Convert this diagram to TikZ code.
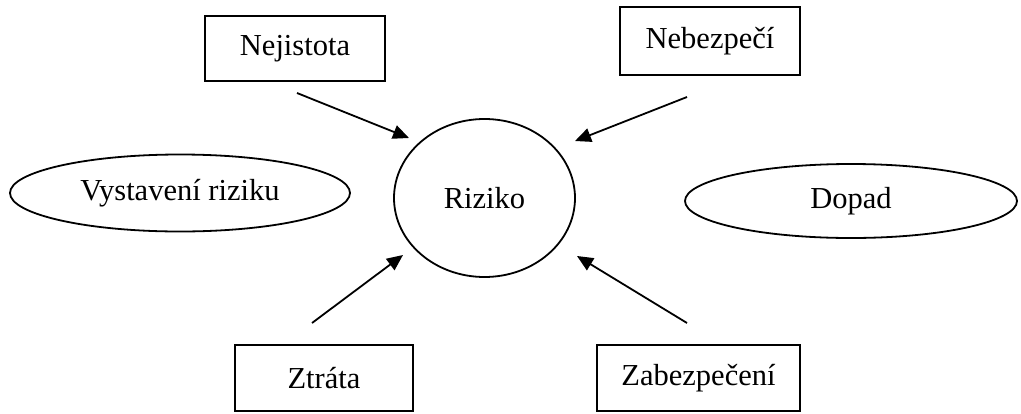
\documentclass[tikz,border=0pt]{standalone}
\usepackage{fontspec}
\setmainfont{Liberation Serif}
\usetikzlibrary{arrows.meta,shapes.geometric}
\begin{document}
\begin{tikzpicture}[x=1pt,y=-1pt,
  every node/.style={font=\fontsize{30.5}{33}\selectfont, line width=1.8pt, inner sep=0pt},
  boxnode/.style={draw, rectangle},
  ellnode/.style={draw, ellipse},
  arr/.style={line width=1.8pt, -{Triangle[length=16pt,width=14pt]}}]
\useasboundingbox (0,0) rectangle (1021,413);
\node[boxnode, minimum width=180pt, minimum height=65pt] (nej) at (295,48.5) {Nejistota};
\node[boxnode, minimum width=180pt, minimum height=68pt] (neb) at (710,41) {Nebezpečí};
\node[boxnode, minimum width=178pt, minimum height=66pt] (ztr) at (324,378) {Ztráta};
\node[boxnode, minimum width=203pt, minimum height=66pt] (zab) at (698.5,378) {Zabezpečení};
\node[ellnode, minimum width=340pt, minimum height=77pt] (vys) at (180,193) {Vystavení riziku};
\node[ellnode, minimum width=332pt, minimum height=74pt] (dop) at (851,201) {Dopad};
\node[ellnode, minimum width=181pt, minimum height=158pt] (riz) at (484.5,198) {Riziko};
\coordinate (s1) at (297,93);  \coordinate (t1) at (409,138);
\coordinate (s2) at (687,97);  \coordinate (t2) at (575,141);
\coordinate (s3) at (312,323); \coordinate (t3) at (403,255);
\coordinate (s4) at (687,323); \coordinate (t4) at (577,256);
\draw[arr] (s1) -- (t1);
\draw[arr] (s2) -- (t2);
\draw[arr] (s3) -- (t3);
\draw[arr] (s4) -- (t4);
\end{tikzpicture}
\end{document}
